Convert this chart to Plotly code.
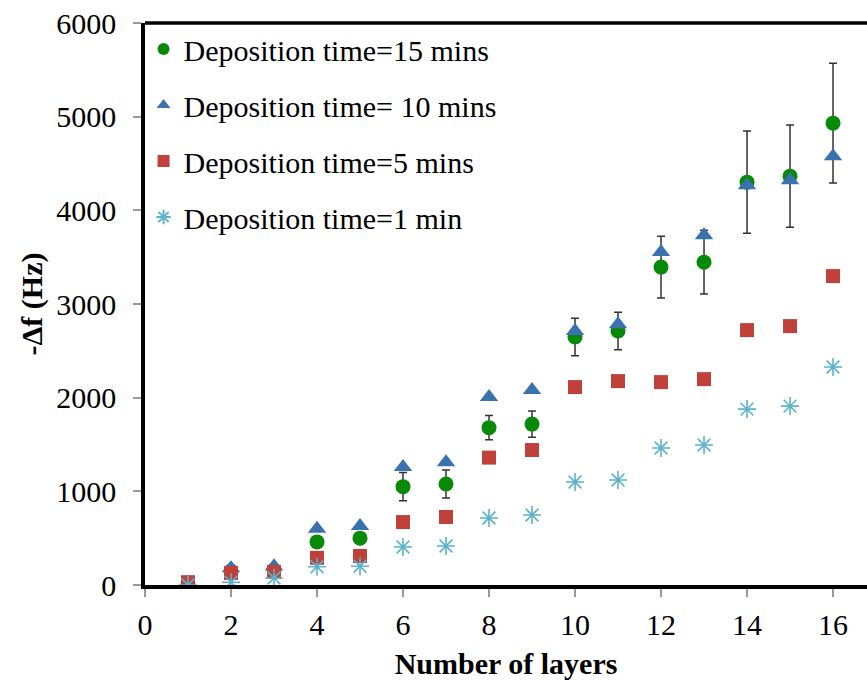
import plotly.graph_objects as go

layers = list(range(1, 17))
green_15 = [10, 150, 160, 460, 500, 1050, 1078, 1680, 1718, 2647, 2711, 3394, 3447, 4301, 4365, 4931]
green_err = [20, 30, 30, 40, 40, 150, 150, 130, 140, 200, 200, 330, 340, 545, 545, 640]
blue_10 = [20, 180, 200, 600, 630, 1260, 1310, 2006, 2081, 2711, 2785, 3554, 3735, 4269, 4322, 4578]
red_5 = [30, 128, 140, 290, 310, 672, 726, 1360, 1441, 2113, 2177, 2166, 2198, 2721, 2764, 3298]
cyan_1 = [0, 30, 75, 195, 200, 406, 416, 715, 747, 1099, 1121, 1462, 1494, 1878, 1910, 2327]
names = ["Deposition time=15 mins", "Deposition time= 10 mins",
         "Deposition time=5 mins", "Deposition time=1 min"]
x_ticks = [0, 2, 4, 6, 8, 10, 12, 14, 16]
y_ticks = [0, 1000, 2000, 3000, 4000, 5000, 6000]

FONT = "Liberation Serif"
fig = go.Figure()
fig.add_trace(go.Scatter(
    x=layers, y=green_15, mode="markers", name=names[0], legendgroup="a",
    marker=dict(symbol="circle", size=15, color="#078a07"),
    error_y=dict(type="data", array=green_err, color="#333333", thickness=1.5, width=4)))
fig.add_trace(go.Scatter(
    x=layers, y=blue_10, mode="markers", name=names[1], legendgroup="b",
    marker=dict(symbol="triangle-up", size=16, color="#3a72b0")))
fig.add_trace(go.Scatter(
    x=layers, y=red_5, mode="markers", name=names[2], legendgroup="c",
    marker=dict(symbol="square", size=14, color="#c0403a")))
fig.add_trace(go.Scatter(
    x=layers, y=cyan_1, mode="markers", name=names[3], legendgroup="d",
    marker=dict(symbol="asterisk-open", size=15, color="#5bb3cc",
                line=dict(color="#5bb3cc", width=1.6))))

fig.update_layout(
    width=867, height=680,
    margin=dict(l=145, r=0, t=23, b=95),
    plot_bgcolor="white", paper_bgcolor="white",
    font=dict(family=FONT, size=30, color="black"),
    showlegend=True,
    legend=dict(x=-0.002, y=1.0, xanchor="left", yanchor="top",
                bgcolor="rgba(0,0,0,0)", font=dict(family=FONT, size=30),
                traceorder="grouped", tracegroupgap=14, itemsizing="constant"),
    xaxis=dict(range=[0, 16.79], tickvals=x_ticks, ticktext=[str(v) for v in x_ticks],
               showgrid=False, zeroline=False, showline=True, linecolor="black", linewidth=3.5,
               ticks="outside", ticklen=8, tickcolor="#999999", tickwidth=1.5,
               ticklabelstandoff=2,
               tickfont=dict(family=FONT, size=30),
               title=dict(text="<b>Number of layers</b>", font=dict(family=FONT, size=30), standoff=15)),
    yaxis=dict(range=[0, 6000], tickvals=y_ticks, ticktext=[str(v) for v in y_ticks],
               showgrid=False, zeroline=False, showline=True, linecolor="black", linewidth=3.5,
               ticks="outside", ticklen=8, tickcolor="#999999", tickwidth=1.5,
               ticklabelstandoff=11,
               tickfont=dict(family=FONT, size=30),
               title=dict(text="<b>-Δf (Hz)</b>", font=dict(family=FONT, size=30), standoff=6)),
)
fig.add_shape(type="line", xref="paper", yref="paper", x0=0, x1=1, y0=1, y1=1,
              line=dict(color="black", width=3.5))
fig.write_html("out.html")
